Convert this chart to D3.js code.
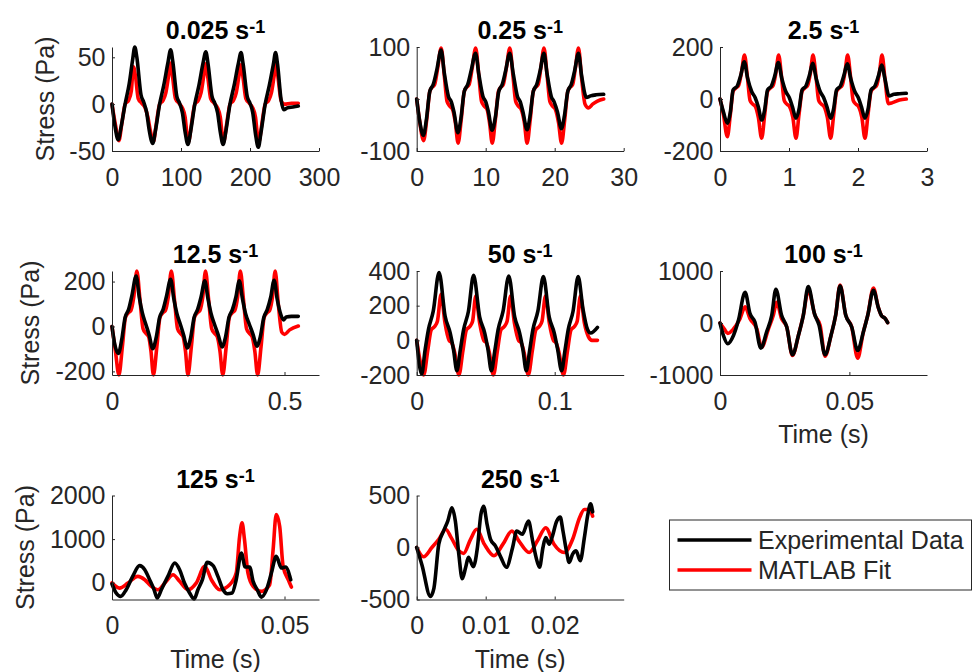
<!DOCTYPE html>
<html>
<head>
<meta charset="utf-8">
<script src="https://cdn.jsdelivr.net/npm/d3@7"></script>
<style>
  body { margin: 0; background: #fff; }
  svg { display: block; font-family: "Liberation Sans", Arial, sans-serif; }
</style>
</head>
<body>
<svg id="chart" width="976" height="672"></svg>
<script>
// shear rate of each panel (s^-1)
const rates = ['0.025', '0.25', '2.5', '12.5', '50', '100', '125', '250'];

// [time (s), stress (Pa)] pairs
const exp025 = [[0,0],[4,-22],[9,-38],[13,-25],[19,0],[25,22],[30,48],[33,61],[36,50],[42,10],[46,2],[50,-8],[54,-28],[59,-42],[63,-28],[69,0],[75,20],[81,44],[85,58],[88,46],[94,8],[98,1],[102,-9],[106,-30],[110,-43],[114,-29],[120,0],[126,20],[132,44],[136,56],[139,44],[145,8],[149,1],[153,-9],[157,-30],[161,-43],[165,-29],[171,0],[177,20],[183,43],[187,55],[190,43],[196,8],[200,1],[204,-9],[208,-32],[212,-46],[216,-30],[222,0],[228,20],[234,43],[237,55],[240,42],[245,5],[249,-6],[254,-4],[262,-3],[270,-2]];
const fit025 = [[0,0],[5,-22],[10,-39],[14,-22],[19,0],[24,4],[28,14],[31,40],[34,30],[38,6],[43,1],[48,-4],[52,-14],[56,-30],[60,-40],[64,-22],[69,0],[74,4],[78,12],[82,30],[85,44],[88,28],[92,6],[97,1],[102,-4],[106,-14],[108,-28],[111,-40],[115,-22],[120,0],[125,4],[129,12],[133,30],[136,43],[139,28],[143,6],[148,1],[153,-4],[157,-14],[159,-28],[162,-40],[166,-22],[171,0],[176,4],[180,12],[184,30],[187,42],[190,28],[194,6],[199,1],[204,-4],[208,-14],[210,-28],[213,-40],[217,-22],[222,0],[227,4],[231,12],[235,30],[238,43],[241,26],[245,4],[250,0],[260,1],[270,1]];

const exp025b = [[0,0],[0.4,-40],[0.97,-70],[1.4,-40],[1.9,15],[2.4,28],[2.9,55],[3.54,94],[4.0,50],[4.6,5],[5.0,-5],[5.4,-25],[5.97,-65],[6.4,-38],[6.9,15],[7.4,28],[7.9,55],[8.53,88],[9.0,48],[9.6,5],[10.0,-5],[10.4,-25],[10.92,-60],[11.4,-35],[11.9,15],[12.4,28],[12.9,55],[13.48,88],[14.0,48],[14.6,5],[15.0,-5],[15.4,-25],[16.0,-59],[16.4,-35],[16.9,15],[17.4,28],[17.9,55],[18.43,88],[18.9,48],[19.5,5],[19.9,-5],[20.4,-25],[20.97,-57],[21.4,-33],[21.9,15],[22.4,28],[22.9,55],[23.44,88],[23.9,45],[24.6,3],[25.2,6],[26,8],[27.1,9]];
const fit025b = [[0,0],[0.4,-40],[1.0,-80],[1.45,-40],[1.9,15],[2.2,22],[2.6,28],[3.05,60],[3.55,98],[4.0,45],[4.4,-5],[4.8,-14],[5.2,-20],[5.6,-45],[6.0,-85],[6.45,-40],[6.9,15],[7.2,22],[7.6,28],[8.05,60],[8.55,98],[9.0,45],[9.4,-5],[9.8,-14],[10.2,-20],[10.55,-45],[10.95,-85],[11.4,-40],[11.85,15],[12.15,22],[12.55,28],[13.0,60],[13.5,98],[13.95,45],[14.35,-5],[14.75,-14],[15.15,-20],[15.6,-45],[16.0,-85],[16.45,-40],[16.9,15],[17.2,22],[17.6,28],[18.0,60],[18.45,98],[18.9,45],[19.3,-5],[19.7,-14],[20.1,-20],[20.55,-45],[21.0,-85],[21.45,-40],[21.9,15],[22.2,22],[22.6,28],[23.0,60],[23.45,98],[23.9,40],[24.4,-10],[24.9,-17],[25.5,-10],[26.2,-4],[27.1,0]];

const exp25 = [[0,0],[0.05,-50],[0.106,-93],[0.15,-50],[0.19,35],[0.25,50],[0.3,90],[0.352,143],[0.4,80],[0.46,28],[0.51,5],[0.555,-30],[0.604,-81],[0.645,-45],[0.69,35],[0.745,50],[0.795,90],[0.845,140],[0.895,80],[0.955,28],[1.005,5],[1.05,-30],[1.101,-74],[1.145,-40],[1.19,35],[1.245,50],[1.295,90],[1.343,137],[1.393,80],[1.453,28],[1.503,5],[1.55,-30],[1.604,-74],[1.645,-40],[1.69,35],[1.745,50],[1.795,90],[1.845,135],[1.895,78],[1.955,28],[2.005,5],[2.05,-30],[2.101,-74],[2.145,-40],[2.19,35],[2.245,50],[2.295,88],[2.343,131],[2.39,78],[2.45,12],[2.52,18],[2.6,20],[2.7,22]];
const fit25 = [[0,0],[0.05,-60],[0.106,-145],[0.15,-60],[0.19,30],[0.23,42],[0.27,52],[0.31,100],[0.355,169],[0.395,90],[0.435,-5],[0.475,-20],[0.515,-30],[0.555,-70],[0.604,-151],[0.648,-60],[0.69,30],[0.73,42],[0.77,52],[0.81,100],[0.85,169],[0.89,90],[0.93,-5],[0.97,-20],[1.01,-30],[1.055,-70],[1.101,-151],[1.145,-60],[1.19,30],[1.23,42],[1.27,52],[1.31,100],[1.348,169],[1.39,90],[1.43,-5],[1.47,-20],[1.51,-30],[1.555,-70],[1.604,-151],[1.648,-60],[1.69,30],[1.73,42],[1.77,52],[1.81,100],[1.85,169],[1.89,90],[1.93,-5],[1.97,-20],[2.01,-30],[2.055,-70],[2.101,-151],[2.145,-60],[2.19,30],[2.23,42],[2.27,52],[2.31,100],[2.348,169],[2.39,80],[2.44,-18],[2.5,-14],[2.6,-4],[2.7,0]];

const exp125 = [[0,0],[0.008,-80],[0.0185,-120],[0.028,-60],[0.038,40],[0.048,75],[0.058,140],[0.070,225],[0.079,130],[0.088,60],[0.098,10],[0.108,-40],[0.118,-99],[0.128,-50],[0.138,40],[0.148,75],[0.158,135],[0.170,210],[0.179,125],[0.188,58],[0.198,10],[0.208,-40],[0.218,-96],[0.228,-50],[0.238,40],[0.248,75],[0.258,130],[0.269,203],[0.278,125],[0.287,58],[0.297,10],[0.308,-38],[0.319,-91],[0.329,-48],[0.339,40],[0.349,75],[0.359,130],[0.369,203],[0.378,125],[0.387,58],[0.398,10],[0.409,-36],[0.420,-88],[0.430,-45],[0.440,40],[0.450,75],[0.460,130],[0.470,206],[0.479,120],[0.490,50],[0.497,29],[0.505,42],[0.52,45],[0.54,45]];
const fit125 = [[0,0],[0.01,-110],[0.02,-216],[0.03,-90],[0.039,40],[0.047,60],[0.055,72],[0.063,130],[0.072,247],[0.081,120],[0.09,-10],[0.098,-30],[0.106,-45],[0.113,-110],[0.120,-216],[0.13,-90],[0.139,40],[0.147,60],[0.155,72],[0.163,130],[0.172,247],[0.181,120],[0.19,-10],[0.198,-30],[0.206,-45],[0.213,-110],[0.220,-216],[0.23,-90],[0.239,40],[0.247,60],[0.255,72],[0.263,130],[0.271,247],[0.280,120],[0.289,-10],[0.297,-30],[0.305,-45],[0.313,-110],[0.321,-216],[0.331,-90],[0.34,40],[0.348,60],[0.356,72],[0.364,130],[0.372,247],[0.381,120],[0.39,-10],[0.398,-30],[0.406,-45],[0.414,-110],[0.422,-216],[0.432,-90],[0.441,40],[0.449,60],[0.457,72],[0.465,130],[0.473,247],[0.482,100],[0.492,-25],[0.5,-35],[0.515,-15],[0.54,2]];

const exp50 = [[0,0],[0.0036,-195],[0.006,-60],[0.0085,62],[0.012,168],[0.0162,391],[0.0206,139],[0.0243,42],[0.0267,-55],[0.0291,-175],[0.0315,-60],[0.034,62],[0.0375,168],[0.0412,375],[0.0456,135],[0.0493,42],[0.0517,-55],[0.0541,-175],[0.0566,-60],[0.059,62],[0.0626,168],[0.0667,371],[0.071,135],[0.0746,42],[0.077,-55],[0.0794,-175],[0.0818,-60],[0.0842,62],[0.0878,168],[0.0918,368],[0.096,135],[0.0997,42],[0.1022,-55],[0.105,-175],[0.1074,-60],[0.1098,62],[0.1133,168],[0.117,368],[0.1205,180],[0.1238,62],[0.126,42],[0.131,75]];
const fit50 = [[0,0],[0.0025,-120],[0.0051,-200],[0.008,-60],[0.0105,60],[0.013,80],[0.015,110],[0.0177,265],[0.0205,100],[0.0235,0],[0.0255,-16],[0.0275,-70],[0.0306,-200],[0.0335,-60],[0.036,60],[0.0385,80],[0.0405,110],[0.0428,255],[0.0456,100],[0.0486,0],[0.0506,-16],[0.0526,-70],[0.0556,-200],[0.0585,-60],[0.061,60],[0.0635,80],[0.0655,110],[0.0680,255],[0.0708,100],[0.0738,0],[0.0758,-16],[0.0778,-70],[0.0809,-200],[0.0838,-60],[0.0863,60],[0.0888,80],[0.0908,110],[0.0933,255],[0.0961,100],[0.0991,0],[0.1011,-16],[0.1031,-70],[0.1064,-200],[0.1093,-60],[0.1118,60],[0.1143,80],[0.1163,110],[0.1186,255],[0.1215,100],[0.1245,20],[0.127,0],[0.131,0]];

const exp100 = [[0,0],[0.0013,-239],[0.003,-399],[0.0052,-239],[0.0071,48],[0.0097,590],[0.0116,180],[0.0135,19],[0.0158,-484],[0.018,-174],[0.020,148],[0.0216,650],[0.0238,148],[0.0258,-77],[0.028,-612],[0.0303,-239],[0.0322,148],[0.0341,700],[0.0365,180],[0.0383,-45],[0.0406,-612],[0.0429,-239],[0.0447,148],[0.0464,715],[0.0486,148],[0.0509,-77],[0.0532,-528],[0.0554,-174],[0.0571,148],[0.0593,630],[0.0612,296],[0.0625,135],[0.0638,90],[0.0648,6]];
const fit100 = [[0,0],[0.0017,-116],[0.003,-200],[0.0052,-116],[0.0077,80],[0.0097,310],[0.0116,84],[0.0142,-110],[0.0161,-466],[0.0187,-116],[0.0206,148],[0.0219,400],[0.0238,84],[0.0258,-77],[0.028,-625],[0.0303,-239],[0.0322,148],[0.0341,632],[0.0367,148],[0.0387,-45],[0.0406,-640],[0.0429,-239],[0.0447,148],[0.0464,730],[0.0486,148],[0.0509,-77],[0.0532,-676],[0.0554,-174],[0.0571,148],[0.0593,670],[0.0612,296],[0.0625,135],[0.0638,90],[0.0648,6]];

const exp125b = [[0,-30],[0.0012,-237],[0.0025,-314],[0.0041,-161],[0.006,146],[0.008,391],[0.0095,299],[0.0109,69],[0.0122,-161],[0.0131,-352],[0.0143,-161],[0.0162,146],[0.0182,452],[0.0196,299],[0.021,-8],[0.0225,-237],[0.0238,-375],[0.0249,-161],[0.0262,69],[0.0276,467],[0.0293,391],[0.0307,146],[0.0322,-161],[0.0334,-253],[0.0348,-237],[0.036,69],[0.0375,682],[0.0386,360],[0.0399,360],[0.0409,31],[0.0421,-161],[0.0433,-330],[0.0447,-176],[0.0462,222],[0.0476,605],[0.0491,337],[0.0503,360],[0.0518,69]];
const fit125b = [[0,0],[0.0022,-123],[0.0046,-8],[0.0075,146],[0.0095,69],[0.0114,-84],[0.0133,-161],[0.0157,31],[0.0177,184],[0.0196,31],[0.022,-161],[0.0244,-8],[0.0269,375],[0.0288,69],[0.0312,-161],[0.0341,-46],[0.036,222],[0.037,1065],[0.0377,1372],[0.0384,989],[0.0394,222],[0.0409,-84],[0.0433,-199],[0.0457,-46],[0.0467,760],[0.0476,1563],[0.0486,1295],[0.0496,375],[0.0511,69],[0.052,-100]];

const exp250 = [[0,0],[0.00077,-170],[0.00198,-470],[0.0025,-390],[0.0032,32],[0.0039,159],[0.0045,254],[0.0051,381],[0.0056,254],[0.0061,-63],[0.0066,-300],[0.0071,-190],[0.0075,-95],[0.0082,-184],[0.0088,0],[0.0093,317],[0.0097,397],[0.0102,222],[0.0107,79],[0.0114,16],[0.0122,-95],[0.013,-190],[0.0139,0],[0.0145,159],[0.0153,127],[0.0162,254],[0.0168,64],[0.0173,-95],[0.0178,-190],[0.0183,0],[0.0187,95],[0.0192,32],[0.0196,95],[0.0203,254],[0.0208,292],[0.0212,159],[0.0217,-32],[0.0221,-143],[0.0226,-63],[0.0231,-32],[0.0237,-127],[0.0243,95],[0.0248,317],[0.0252,419],[0.0255,343]];
const fit250 = [[0,0],[0.001,-89],[0.0022,0],[0.0032,79],[0.0042,175],[0.005,95],[0.0061,-32],[0.0068,-57],[0.0078,79],[0.0087,175],[0.0098,32],[0.0112,-79],[0.0125,32],[0.0138,159],[0.0148,64],[0.0163,-48],[0.0175,64],[0.0187,190],[0.0199,32],[0.0214,-48],[0.0226,79],[0.0236,286],[0.0243,365],[0.025,365],[0.0255,302]];

// axis limits and ticks, per panel
const xDomains = [[0, 300], [0, 30], [0, 3], [0, 0.6], [0, 0.15], [0, 0.08], [0, 0.06], [0, 0.03]];
const yDomains = [[-50, 61], [-100, 100], [-200, 200], [-216, 247], [-200, 400], [-1000, 1000], [-385, 2000], [-500, 500]];
const xTicks = [[0, 100, 200, 300], [0, 10, 20, 30], [0, 1, 2, 3], [0, 0.5], [0, 0.1], [0, 0.05], [0, 0.05], [0, 0.01, 0.02]];
const yTicks = [[-50, 0, 50], [-100, 0, 100], [-200, 0, 200], [-200, 0, 200], [-200, 0, 200, 400], [-1000, 0, 1000], [0, 1000, 2000], [-500, 0, 500]];

const expSeries = [exp025, exp025b, exp25, exp125, exp50, exp100, exp125b, exp250];
const fitSeries = [fit025, fit025b, fit25, fit125, fit50, fit100, fit125b, fit250];
const legendLabels = ['Experimental Data', 'MATLAB Fit'];
const colours = ['#000000', '#ff0000'];

const colLeft = [112, 416.7, 720];
const rowTop = [47, 271, 495.5];
const yLabelX = [53.5, 39, 33.5]; // ylabel sits left of the widest tick label
const panelW = 207;
const panelH = 104;
const axisColour = '#262626';
const fontSize = 25;

const svg = d3.select('#chart');

rates.forEach((rate, i) => {
  const col = i % 3;
  const row = Math.floor(i / 3);
  const g = svg.append('g')
    .attr('transform', 'translate(' + colLeft[col] + ',' + rowTop[row] + ')');

  const x = d3.scaleLinear().domain(xDomains[i]).range([0, panelW]);
  const y = d3.scaleLinear().domain(yDomains[i]).range([panelH, 0]);

  const xAxis = d3.axisBottom(x)
    .tickValues(xTicks[i])
    .tickFormat((d) => String(d))
    .tickSizeInner(-3)
    .tickSizeOuter(0)
    .tickPadding(17);
  const yAxis = d3.axisLeft(y)
    .tickValues(yTicks[i])
    .tickFormat((d) => String(d))
    .tickSizeInner(-3)
    .tickSizeOuter(0)
    .tickPadding(6.5);

  const line = d3.line()
    .x((d) => x(d[0]))
    .y((d) => y(d[1]))
    .curve(d3.curveMonotoneX);

  // fit underneath, experiment on top
  [fitSeries[i], expSeries[i]].forEach((series, k) => {
    g.append('path')
      .datum(series)
      .attr('d', line)
      .attr('fill', 'none')
      .attr('stroke', colours[1 - k])
      .attr('stroke-width', 3.6)
      .attr('stroke-linejoin', 'round')
      .attr('stroke-linecap', 'round');
  });

  const gx = g.append('g').attr('transform', 'translate(0,' + panelH + ')').call(xAxis);
  const gy = g.append('g').call(yAxis);
  [gx, gy].forEach((a) => {
    a.attr('font-family', null).attr('font-size', fontSize);
    a.select('.domain').attr('stroke', axisColour).attr('stroke-width', 1);
    a.selectAll('.tick line').attr('stroke', axisColour);
    a.selectAll('.tick text').attr('fill', axisColour);
  });

  const title = g.append('text')
    .attr('x', panelW / 2)
    .attr('y', -8)
    .attr('text-anchor', 'middle')
    .attr('font-size', fontSize)
    .attr('font-weight', 'bold')
    .attr('fill', '#000');
  title.append('tspan').text(rate + ' s');
  title.append('tspan').attr('font-size', 18).attr('dy', -6).text('-1');

  if (col === 0) {
    g.append('text')
      .attr('transform', 'translate(' + (yLabelX[row] - colLeft[0]) + ',' + panelH / 2 + ') rotate(-90)')
      .attr('text-anchor', 'middle')
      .attr('font-size', fontSize)
      .attr('fill', axisColour)
      .text('Stress (Pa)');
  }
  if (row === 2 || i === 5) {
    g.append('text')
      .attr('x', panelW / 2)
      .attr('y', panelH + 68)
      .attr('text-anchor', 'middle')
      .attr('font-size', fontSize)
      .attr('fill', axisColour)
      .text('Time (s)');
  }
});

// legend
const legend = svg.append('g').attr('transform', 'translate(669.5,520)');
legend.append('rect')
  .attr('width', 302)
  .attr('height', 70)
  .attr('fill', '#fff')
  .attr('stroke', axisColour)
  .attr('stroke-width', 1);
legendLabels.forEach((label, k) => {
  const yy = 20 + k * 30;
  legend.append('line')
    .attr('x1', 8).attr('x2', 82)
    .attr('y1', yy).attr('y2', yy)
    .attr('stroke', colours[k])
    .attr('stroke-width', 3.6);
  legend.append('text')
    .attr('x', 88.5)
    .attr('y', yy)
    .attr('dy', '0.35em')
    .attr('font-size', fontSize)
    .attr('fill', axisColour)
    .text(label);
});
</script>
</body>
</html>
